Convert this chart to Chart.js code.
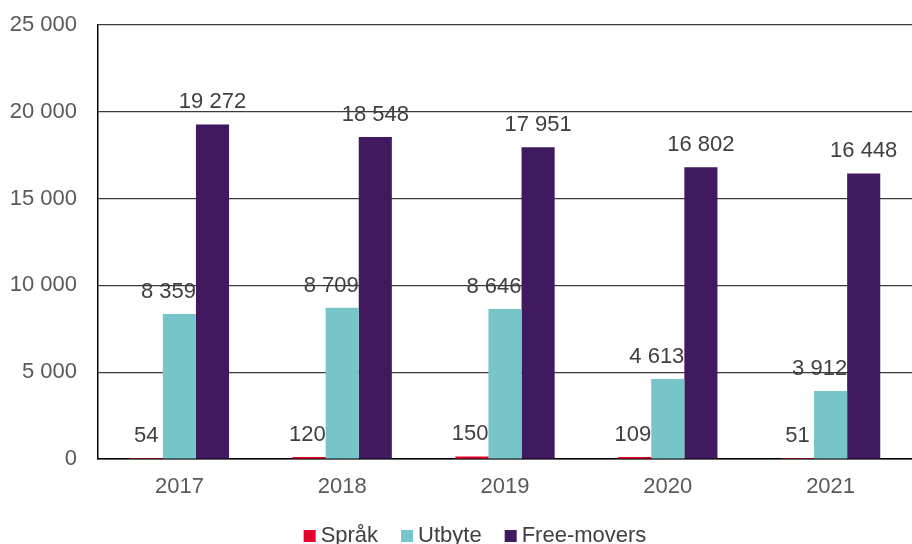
<!DOCTYPE html>
<html>
<head>
<meta charset="utf-8">
<script src="https://cdn.jsdelivr.net/npm/chart.js@4.4.1/dist/chart.umd.min.js"></script>
<style>
html,body{margin:0;padding:0;background:#fff;}
#wrap{width:912px;height:544px;position:relative;}
</style>
</head>
<body>
<div id="wrap"><canvas id="c" width="912" height="544"></canvas></div>
<script>
const categories = ['2017', '2018', '2019', '2020', '2021'];
const sprak = [54, 120, 150, 109, 51];
const utbyte = [8359, 8709, 8646, 4613, 3912];
const freeMovers = [19272, 18548, 17951, 16802, 16448];
const seriesNames = ['Språk', 'Utbyte', 'Free-movers'];
const yTicks = [0, 5000, 10000, 15000, 20000, 25000];

const FONT = '"Liberation Sans", Arial, sans-serif';
const fmt = v => String(v).replace(/\B(?=(\d{3})+(?!\d))/g, ' ');

const labelPlugin = {
  id: 'valueLabels',
  afterDatasetsDraw(chart) {
    const ctx = chart.ctx;
    ctx.save();
    ctx.font = '22px ' + FONT;
    ctx.fillStyle = '#404040';
    ctx.textBaseline = 'alphabetic';
    const n = chart.data.datasets.length;
    chart.data.datasets.forEach((ds, i) => {
      const meta = chart.getDatasetMeta(i);
      meta.data.forEach((el, j) => {
        const txt = fmt(ds.data[j]);
        const w = ctx.measureText(txt).width;
        if (i < n - 1 && w > el.width) {
          ctx.textAlign = 'right';
          ctx.fillText(txt, el.x + el.width / 2, el.y - 16);
        } else {
          ctx.textAlign = 'center';
          ctx.fillText(txt, el.x, el.y - 16);
        }
      });
    });
    ctx.restore();
  }
};

const legendPlugin = {
  id: 'customLegend',
  afterDraw(chart) {
    const ctx = chart.ctx;
    ctx.save();
    ctx.font = '22px ' + FONT;
    const box = 12, gapText = 5, gapItem = 23;
    const items = chart.data.datasets.map(ds => ({ text: ds.label, color: ds.backgroundColor, w: ctx.measureText(ds.label).width }));
    let total = 0;
    items.forEach((it, i) => { total += box + gapText + it.w + (i < items.length - 1 ? gapItem : 0); });
    let x = 475 - total / 2;
    const base = 542;
    ctx.textBaseline = 'alphabetic';
    ctx.textAlign = 'left';
    items.forEach(it => {
      ctx.fillStyle = it.color;
      ctx.fillRect(x, base - box, box, box);
      x += box + gapText;
      ctx.fillStyle = '#404040';
      ctx.fillText(it.text, x, base);
      x += it.w + gapItem;
    });
    ctx.restore();
  }
};

new Chart(document.getElementById('c'), {
  type: 'bar',
  data: {
    labels: categories,
    datasets: [
      { label: seriesNames[0], data: sprak, backgroundColor: '#E4002B' },
      { label: seriesNames[1], data: utbyte, backgroundColor: '#76C5C8' },
      { label: seriesNames[2], data: freeMovers, backgroundColor: '#41195E' }
    ]
  },
  options: {
    responsive: false,
    animation: false,
    layout: { padding: { top: 0, right: 0, bottom: 45, left: 0 } },
    datasets: { bar: { categoryPercentage: 0.61, barPercentage: 1.0, borderWidth: 0 } },
    plugins: { legend: { display: false }, tooltip: { enabled: false } },
    scales: {
      x: {
        grid: { display: false, drawTicks: false },
        border: { display: true, color: '#000', width: 1.5 },
        ticks: { color: '#595959', font: { family: FONT, size: 22 }, padding: 15 },
        afterFit(s) { s.height = 40; }
      },
      y: {
        min: 0, max: 25000,
        afterBuildTicks(s) { s.ticks = yTicks.map(v => ({ value: v })); },
        grid: { color: '#3a3a3a', lineWidth: 1.2, drawTicks: false },
        border: { display: true, color: '#000', width: 1.5 },
        ticks: { color: '#595959', font: { family: FONT, size: 22 }, padding: 21, callback: v => fmt(v) },
        afterFit(s) { s.width = 98; s.paddingTop = 25; s.paddingBottom = 0; }
      }
    }
  },
  plugins: [labelPlugin, legendPlugin]
});
</script>
</body>
</html>
